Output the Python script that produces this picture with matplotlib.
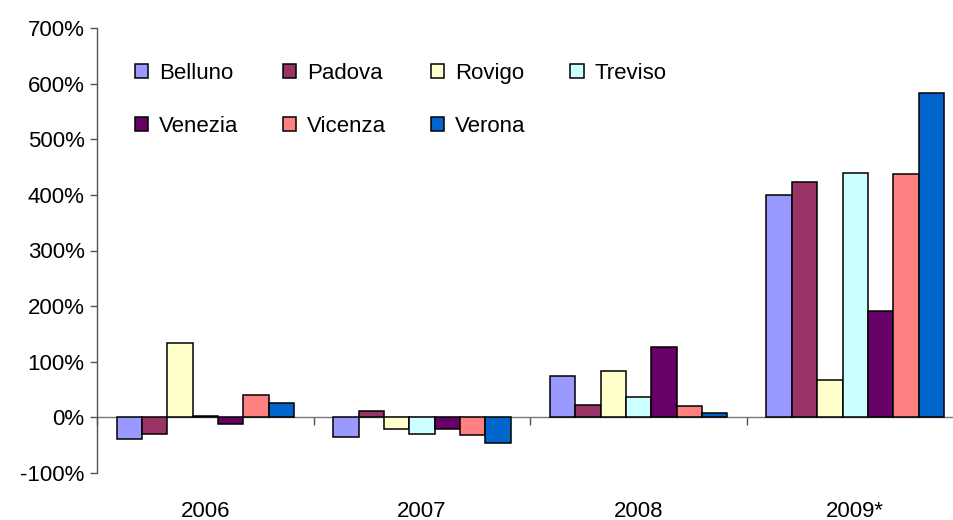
import numpy as np
import matplotlib
matplotlib.use('Agg')
import matplotlib.pyplot as plt

plt.rcParams['font.family'] = ['Liberation Sans', 'DejaVu Sans']

years = ['2006', '2007', '2008', '2009*']
provinces = ['Belluno', 'Padova', 'Rovigo', 'Treviso', 'Venezia', 'Vicenza', 'Verona']
colors = ['#9999FF', '#993366', '#FFFFCC', '#CCFFFF', '#660066', '#FF8080', '#0066CC']

belluno = [-38, -35, 74, 399]
padova = [-29, 11, 23, 423]
rovigo = [133, -20, 83, 68]
treviso = [3, -29, 37, 440]
venezia = [-12, -20, 126, 191]
vicenza = [40, -32, 20, 437]
verona = [26, -46, 8, 584]
values = [belluno, padova, rovigo, treviso, venezia, vicenza, verona]

W, H = 954, 520
fig = plt.figure(figsize=(W / 100, H / 100), dpi=100)
ax = fig.add_axes([97 / W, (H - 473) / H, (963.5 - 97) / W, (473 - 28) / H])

x = np.arange(len(years))
bw = 0.117
bars = []
for i, (name, vals) in enumerate(zip(provinces, values)):
    off = (i - 3) * bw
    b = ax.bar(x + off, vals, bw, color=colors[i], edgecolor='black',
               linewidth=1.1, label=name, zorder=3)
    bars.append(b)

ax.set_xlim(-0.5, 3.5)
ax.set_ylim(-100, 700)
ax.set_yticks(np.arange(-100, 701, 100))
ax.set_yticklabels([f'{v}%' for v in range(-100, 701, 100)], fontsize=16)
ax.tick_params(axis='y', direction='out', length=5, width=1, color='#555555', pad=4)

ax.set_xticks(x)
ax.set_xticklabels(years, fontsize=16)
ax.tick_params(axis='x', length=0, pad=20)

for s in ['top', 'right', 'bottom']:
    ax.spines[s].set_visible(False)
ax.spines['left'].set_color('#555555')
ax.spines['left'].set_linewidth(1)

# zero line with category separators
ax.axhline(0, color='#777777', linewidth=1, zorder=2)
sec = ax.secondary_xaxis(0.125)
sec.set_xticks(np.arange(-0.5, 3.6, 1))
sec.set_xticklabels([])
sec.tick_params(direction='out', length=6, width=1, color='#555555')
sec.spines['bottom'].set_visible(False)

# legend filled row by row (matplotlib fills columns first)
order = [0, 4, 1, 5, 2, 6, 3]
fig.legend([bars[i] for i in order], [provinces[i] for i in order],
           loc='upper left', bbox_to_anchor=(119 / W, 1 - 47 / H), ncol=4,
           frameon=False, fontsize=16, handlelength=0.6, handleheight=0.6,
           handletextpad=0.5, columnspacing=2.0, labelspacing=1.45,
           borderpad=0.2)

fig.savefig('out.png', dpi=100)
